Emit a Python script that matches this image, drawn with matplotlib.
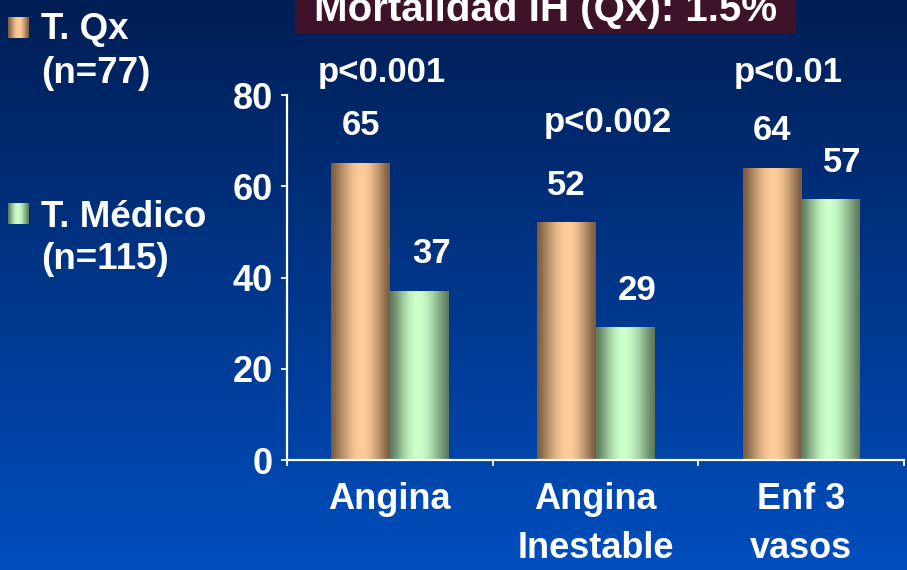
import numpy as np
import matplotlib
matplotlib.use('Agg')
import matplotlib.pyplot as plt
from matplotlib.patches import Rectangle

# ---------------- data ----------------
categories = ['Angina', 'Angina\nInestable', 'Enf 3\nvasos']
series_names = ['T. Qx', 'T. Médico']
series_n = ['(n=77)', '(n=115)']
qx_values = [65, 52, 64]
medico_values = [37, 29, 57]
p_labels = ['p<0.001', 'p<0.002', 'p<0.01']
yticks = [0, 20, 40, 60, 80]
title = 'Mortalidad IH (Qx): 1.5%'

plt.rcParams['font.family'] = ['Liberation Sans', 'DejaVu Sans']
plt.rcParams['font.weight'] = 'bold'

W, H = 907, 570
fig = plt.figure(figsize=(W / 100, H / 100), dpi=100)

# ---------------- background gradient ----------------
bg = fig.add_axes([0, 0, 1, 1], zorder=-10)
bg.axis('off')
top_c = np.array([0, 30, 85]) / 255.0
bot_c = np.array([0, 78, 190]) / 255.0
g = np.linspace(0, 1, 256)[:, None, None]
bg.imshow(top_c + (bot_c - top_c) * g, aspect='auto', extent=[0, 1, 0, 1], origin='upper')
bg.set_xlim(0, 1)
bg.set_ylim(0, 1)


def profile(peak, n=200):
    t = np.linspace(0, 1, n)
    s = np.where(t < peak, t / peak, (1 - t) / (1 - peak))
    return np.sin(s * np.pi / 2) ** 1.3


def grad_img(edge, center, peak):
    s = profile(peak)[None, :, None]
    edge = np.array(edge) / 255.0
    center = np.array(center) / 255.0
    return edge + (center - edge) * s


qx_img = grad_img((122, 92, 64), (255, 204, 153), 0.52)
md_img = grad_img((92, 122, 92), (204, 255, 204), 0.47)

# ---------------- main axes ----------------
ax = fig.add_axes([287 / W, 110 / H, (904 - 287) / W, (460 - 95) / H])
ax.set_facecolor('none')

x = np.arange(len(categories))
w = 0.285
bars_qx = ax.bar(x - w / 2, qx_values, w, color='none', edgecolor='none')
bars_md = ax.bar(x + w / 2, medico_values, w, color='none', edgecolor='none')

for bars, img in ((bars_qx, qx_img), (bars_md, md_img)):
    for b in bars:
        x0, y0, bw, bh = b.get_x(), b.get_y(), b.get_width(), b.get_height()
        ax.imshow(img, extent=[x0, x0 + bw, y0, y0 + bh], aspect='auto', zorder=2)

ax.set_xlim(-0.5, 2.5)
ax.set_ylim(0, 80)

# value labels
for b, v in zip(bars_qx, qx_values):
    ax.annotate(str(v), (b.get_x() + b.get_width() / 2, v), xytext=(0, 28),
                textcoords='offset pixels', ha='center', va='baseline',
                color='white', fontsize=25, fontweight='bold')
for b, v in zip(bars_md, medico_values):
    ax.annotate(str(v), (b.get_x() + b.get_width() / 2, v), xytext=(12, 28),
                textcoords='offset pixels', ha='center', va='baseline',
                color='white', fontsize=25, fontweight='bold')

# p-values
p_pos = [(-0.039, 82.85), (1.058, 71.95), (1.937, 82.85)]
for (px, py), lab in zip(p_pos, p_labels):
    ax.text(px, py, lab, ha='center', va='baseline', color='white',
            fontsize=25, fontweight='bold', clip_on=False)

# spines & ticks
for s in ('top', 'right'):
    ax.spines[s].set_visible(False)
for s in ('left', 'bottom'):
    ax.spines[s].set_color('white')
    ax.spines[s].set_linewidth(1.6)

ax.set_yticks(yticks)
ax.set_yticklabels([str(t) for t in yticks])
ax.tick_params(axis='y', colors='white', length=4, width=1.3, pad=6,
               labelsize=26, direction='out')

ax.set_xticks(x)
ax.set_xticklabels(categories, fontsize=26, fontweight='bold', color='white',
                   linespacing=1.5)
ax.tick_params(axis='x', which='major', length=0, pad=16)
ax.set_xticks([-0.5, 0.5, 1.5, 2.5], minor=True)
ax.tick_params(axis='x', which='minor', length=4, width=1.3, colors='white', direction='out')
for lbl in ax.get_yticklabels() + ax.get_xticklabels():
    lbl.set_fontweight('bold')

# ---------------- legend ----------------
leg_items = [(series_names[0], series_n[0], qx_img, 17, 39, 83),
             (series_names[1], series_n[1], md_img, 203, 227, 269)]
for name, n, img, sq_top, b1, b2 in leg_items:
    sq = fig.add_axes([8 / W, 1 - (sq_top + 21) / H, 21 / W, 21 / H])
    sq.imshow(img, aspect='auto', extent=[0, 1, 0, 1])
    sq.axis('off')
    fig.text(41 / W, 1 - b1 / H, name, color='white', fontsize=26.5,
             fontweight='bold', ha='left', va='baseline')
    fig.text(41 / W, 1 - b2 / H, n, color='white', fontsize=26.5,
             fontweight='bold', ha='left', va='baseline')

# ---------------- title box ----------------
fig.patches.append(Rectangle((295 / W, 1 - 33 / H), (796 - 295) / W, 40 / H,
                             transform=fig.transFigure, facecolor='#3e1228',
                             edgecolor='none', zorder=1))
fig.text(545.5 / W, 1 - 21 / H, title, color='white', fontsize=29,
         fontweight='bold', ha='center', va='baseline', zorder=2)

fig.savefig('out.png', dpi=100)
